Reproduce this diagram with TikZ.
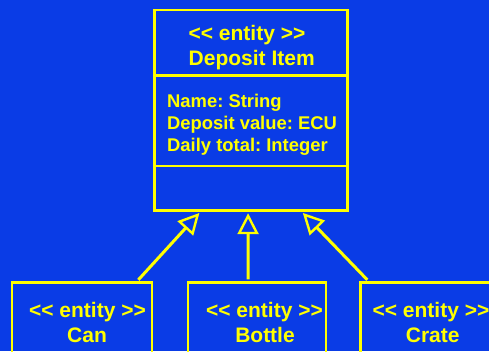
\documentclass[tikz,border=0pt]{standalone}
\usepackage{fontspec}
\setmainfont{Liberation Sans}[Ligatures=TeXOff]
\usetikzlibrary{arrows.meta}
\definecolor{bg}{RGB}{10,60,230}
\definecolor{ylw}{RGB}{255,255,0}
\frenchspacing

\begin{document}
\begin{tikzpicture}[x=1pt, y=-1pt,
  box/.style={draw=ylw, line width=2.8pt, rectangle, inner sep=0pt},
  rule/.style={draw=ylw, line width=2.8pt},
  ttl/.style={text=ylw, font=\bfseries\fontsize{21}{25}\selectfont, inner sep=0pt, anchor=base},
  attr/.style={text=ylw, font=\bfseries\fontsize{18.4}{22}\selectfont, inner sep=0pt, anchor=base west},
  gen/.style={draw=ylw, line width=3pt, shorten <=2pt, shorten >=1pt,
    -{Triangle[length=21pt, width=21pt, fill=bg, line width=2.4pt]}}
]
% canvas
\fill[bg] (0,0) rectangle (489,351);
\useasboundingbox (0,0) rectangle (489,351);
\clip (0,0) rectangle (489,351);

% superclass
\node[box, minimum width=192.8pt, minimum height=200.8pt] (deposit) at (251.1,110.4) {};
\draw[rule] (deposit.west |- 0,75.7) -- (deposit.east |- 0,75.7);
\draw[rule] (deposit.west |- 0,166) -- (deposit.east |- 0,166);
\node[ttl] (depst) at (247,40) {<< entity >>};
\node[ttl] (depname) at (251.7,65) {Deposit Item};
\node[attr] (attra) at (167,107) {Name: String};
\node[attr] (attrb) at (167,129) {Deposit value: ECU};
\node[attr] (attrc) at (167,151.5) {Daily total: Integer};

% subclasses
\node[box, minimum width=140pt, minimum height=100pt] (can) at (82,332.7) {};
\node[box, minimum width=138pt, minimum height=100pt] (bottle) at (257,332.7) {};
\node[box, minimum width=140pt, minimum height=100pt] (crate) at (430.7,332.7) {};

\node[ttl] (canst) at (87.5,317) {<< entity >>};
\node[ttl] (canname) at (87,342.7) {Can};
\node[ttl] (bottlest) at (264.5,317) {<< entity >>};
\node[ttl] (bottlename) at (265,342.7) {Bottle};
\node[ttl] (cratest) at (431,317) {<< entity >>};
\node[ttl] (cratename) at (432.7,342.7) {Crate};

% generalisation arrows
\draw[gen] ([xshift=55pt]can.north) -- ([xshift=-51pt]deposit.south);
\draw[gen] ([xshift=-9pt]bottle.north) -- ([xshift=-3pt]deposit.south);
\draw[gen] ([xshift=-62pt]crate.north) -- ([xshift=51pt]deposit.south);
\end{tikzpicture}
\end{document}
